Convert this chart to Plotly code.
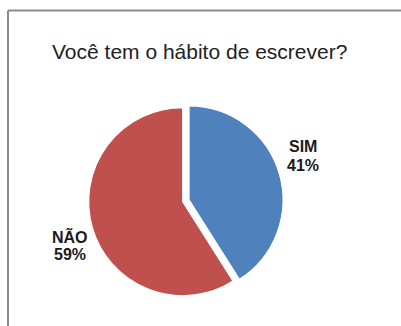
import plotly.graph_objects as go

# Survey answers and their shares (percent)
labels = ["SIM", "NÃO"]
values = [41, 59]
colors = ["#4F81BD", "#C0504D"]
pulls = [0.07, 0.0]
title_text = "Você tem o hábito de escrever?"

W, H = 401, 326

def px_x(x):
    return x / W

def px_y(y):
    return 1 - y / H

fig = go.Figure()

# Pie box: centre and size in pixels, converted to the paper domain
cx, cy, box = 182.7, 201.7, 201.2
fig.add_trace(go.Pie(
    labels=labels,
    values=values,
    sort=False,
    direction="clockwise",
    rotation=0,
    pull=pulls,
    marker=dict(colors=colors, line=dict(color="white", width=1.2)),
    textinfo="none",
    hoverinfo="label+percent",
    showlegend=False,
    domain=dict(
        x=[px_x(cx - box / 2), px_x(cx + box / 2)],
        y=[px_y(cy + box / 2), px_y(cy - box / 2)],
    ),
))

annotations = [
    dict(text=title_text, x=px_x(50), y=px_y(51.5), xref="paper", yref="paper",
         xanchor="left", yanchor="middle", showarrow=False,
         font=dict(family="Liberation Sans, Arial, sans-serif", size=21, color="#222222")),
]

# Category name and percentage placed beside each slice
label_pos = {"SIM": (303, 146, 165), "NÃO": (70, 236, 254)}
for lab, val in zip(labels, values):
    x, y1, y2 = label_pos[lab]
    for txt, yy in ((f"<b>{lab}</b>", y1), (f"<b>{val}%</b>", y2)):
        annotations.append(dict(
            text=txt, x=px_x(x), y=px_y(yy), xref="paper", yref="paper",
            xanchor="center", yanchor="middle", showarrow=False,
            font=dict(family="Liberation Sans, Arial, sans-serif", size=16, color="#1a1a1a"),
        ))

# Chart frame: top and left edges
shapes = [
    dict(type="line", xref="paper", yref="paper", x0=px_x(8), x1=1.0,
         y0=px_y(10.5), y1=px_y(10.5), line=dict(color="#8a8a8a", width=2)),
    dict(type="line", xref="paper", yref="paper", x0=px_x(8), x1=px_x(8),
         y0=px_y(10.5), y1=0.0, line=dict(color="#8a8a8a", width=2)),
]

fig.update_layout(
    width=W, height=H,
    margin=dict(l=0, r=0, t=0, b=0),
    paper_bgcolor="white",
    plot_bgcolor="white",
    annotations=annotations,
    shapes=shapes,
)

fig.write_html("out.html")
